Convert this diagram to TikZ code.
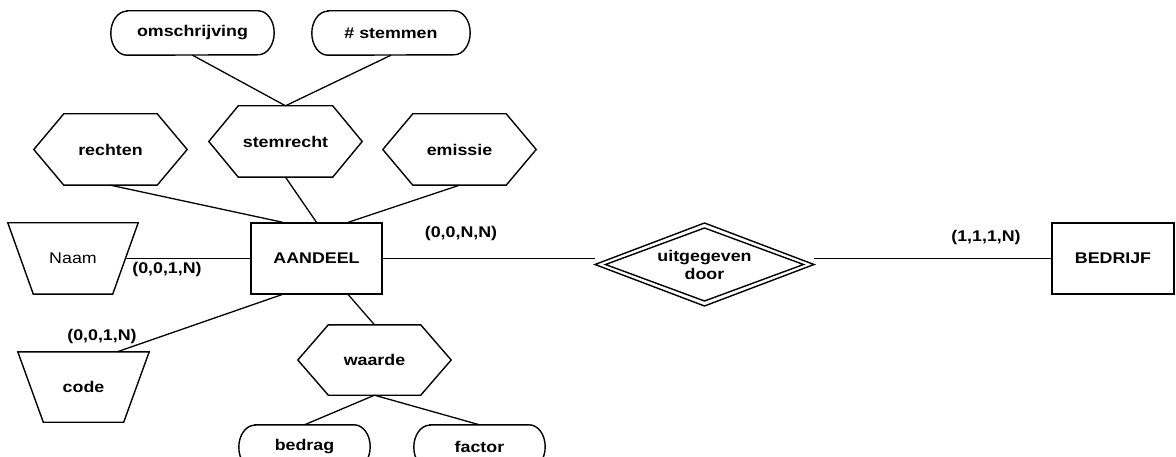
\documentclass[tikz,border=0pt]{standalone}
\usepackage{fontspec}
\setmainfont{Liberation Sans}[FakeStretch=1.15]
\usetikzlibrary{calc}

% outline helpers: draw a shape on the frame of an invisible node
\newcommand\ERhex[2]{\draw[outline] (#1.west) -- ([xshift=#2]#1.north west) -- ([xshift=-#2]#1.north east) -- (#1.east) -- ([xshift=-#2]#1.south east) -- ([xshift=#2]#1.south west) -- cycle;}
\newcommand\ERtrap[2]{\draw[outline] (#1.north west) -- (#1.north east) -- ([xshift=-#2]#1.south east) -- ([xshift=#2]#1.south west) -- cycle;}
\newcommand\ERdiamond[3]{\draw[outline] ([xshift=#2]#1.center) -- ([yshift=#3]#1.center) -- ([xshift=-#2]#1.center) -- ([yshift=-#3]#1.center) -- cycle;}
% pill with elliptic ends (x radius 16pt, half height 22pt)
\newcommand\ERpill[1]{\draw[outline] ([xshift=16pt]#1.north west) -- ([xshift=-16pt]#1.north east)
  arc[start angle=90, end angle=-90, x radius=16pt, y radius=22pt]
  -- ([xshift=16pt]#1.south west)
  arc[start angle=270, end angle=90, x radius=16pt, y radius=22pt] -- cycle;}

\begin{document}
\begin{tikzpicture}[x=1pt,y=-1pt,
  every node/.style={font=\fontsize{15.5}{18}\selectfont\bfseries, inner sep=0pt, align=center},
  outline/.style={draw=black, line width=1.4pt, line join=miter},
  link/.style={draw=black, line width=1.3pt},
  entity/.style={outline, minimum width=131pt, minimum height=71pt},
  attrbox/.style={minimum height=44pt},
  hexnode/.style={minimum width=153pt, minimum height=71pt}]
\useasboundingbox (0,0) rectangle (1176,457);
\clip (0,0) rectangle (1176,457);

% entities
\node[entity] (aandeel) at (316.5,258.5) {AANDEEL};
\node[entity, minimum width=122pt] (bedrijf) at (1113,258.5) {BEDRIJF};

% relationship
\node[minimum width=219pt, minimum height=83pt] (uit) at (704.5,264.5) {uitgegeven\\door};
\ERdiamond{uit}{109.5pt}{41.5pt}
\ERdiamond{uit}{99pt}{36.5pt}

% composite attributes
\node[hexnode] (rechten) at (110.5,149.5) {rechten};
\node[hexnode] (stemrecht) at (285.5,141.5) {stemrecht};
\node[hexnode] (emissie) at (459.5,149.5) {emissie};
\node[hexnode, minimum height=70pt] (waarde) at (374.5,360) {waarde};
\ERhex{rechten}{30pt}
\ERhex{stemrecht}{29.5pt}
\ERhex{emissie}{30pt}
\ERhex{waarde}{30.5pt}

% simple attributes
\node[attrbox, minimum width=163pt] (omschr) at (192.5,33) {omschrijving};
\node[attrbox, minimum width=158pt] (stemmen) at (391,33) {\# stemmen};
\node[attrbox, minimum width=131pt] (bedrag) at (304.5,447) {bedrag};
\node[attrbox, minimum width=131pt] (factor) at (479.5,447) {factor};
\ERpill{omschr}
\ERpill{stemmen}
\ERpill{bedrag}
\ERpill{factor}

% key attributes
\node[minimum width=130pt, minimum height=71pt, font=\fontsize{15.5}{18}\selectfont\mdseries] (naam) at (73,258.5) {Naam};
\node[minimum width=131pt, minimum height=70pt] (code) at (83.5,387) {code};
\ERtrap{naam}{25.5pt}
\ERtrap{code}{25.5pt}

% connectors
\draw[link] (omschr.south) -- (stemrecht.north);
\draw[link] (stemmen.south) -- (stemrecht.north);
\draw[link] (rechten.south) -- ($(aandeel.north west)!0.245!(aandeel.north east)$);
\draw[link] (stemrecht.south) -- (aandeel.north);
\draw[link] (emissie.south) -- ($(aandeel.north west)!0.74!(aandeel.north east)$);
\draw[link] ([xshift=-12.75pt]naam.east) -- (aandeel.west);
\draw[link] ($(code.north west)!0.756!(code.north east)$) -- ($(aandeel.south west)!0.237!(aandeel.south east)$);
\draw[link] ($(aandeel.south west)!0.74!(aandeel.south east)$) -- (waarde.north);
\draw[link] (waarde.south) -- (bedrag.north);
\draw[link] (waarde.south) -- (factor.north);
\draw[link] (aandeel.east) -- (aandeel.east -| uit.west);
\draw[link] (bedrijf.west -| uit.east) -- (bedrijf.west);

% cardinalities
\node (c1) at (167,269) {(0,0,1,N)};
\node (c2) at (102,336) {(0,0,1,N)};
\node (c3) at (461,233.5) {(0,0,N,N)};
\node (c4) at (986,237) {(1,1,1,N)};
\end{tikzpicture}
\end{document}
